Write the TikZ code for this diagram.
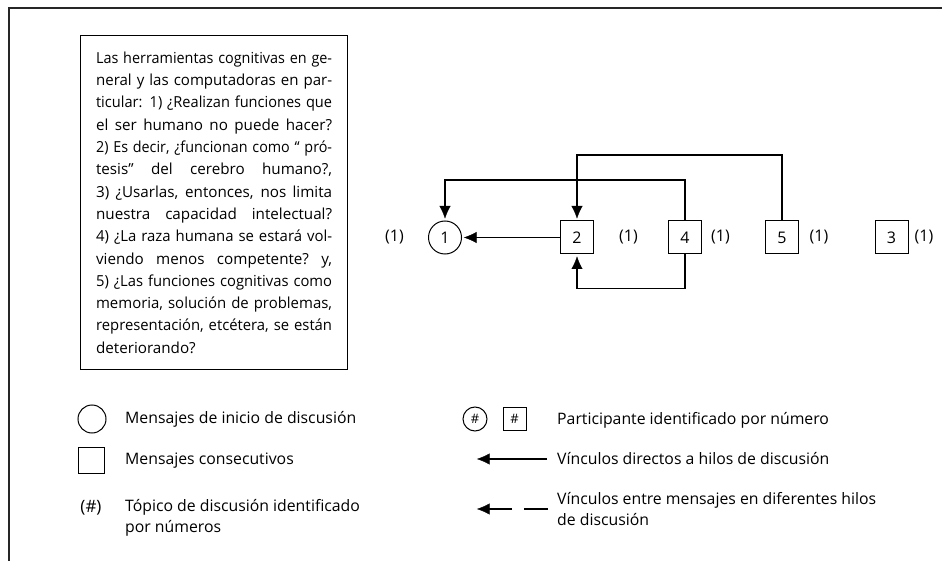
\documentclass[tikz,border=0pt]{standalone}
\usepackage{graphicx}
\usepackage{fontspec}
\setmainfont{Open Sans}
\usetikzlibrary{
  positioning, arrows.meta, decorations.markings}
\newlength{\qwidth}
\setlength{\qwidth}{236pt}
\newlength{\qnat}
\newcommand{\fullline}[1]{\settowidth{\qnat}{#1}%
  \ifdim\qnat>\qwidth\resizebox{\qwidth}{\height}{#1}%
  \else\makebox[\qwidth][s]{\spaceskip=.26em plus 1fil\xspaceskip=.26em plus 1fil\relax #1}\fi}
\tikzset{
    Arrow/.style = {
        line width=1.4pt,
        decoration={
            markings,
            mark=at position 1 with {
                \arrow{Latex[length=15pt, width=13pt]}
                }
            },
        shorten >= 10pt,
        preaction = {decorate}
    },
    Start/.style = {draw, circle, line width=1pt, inner sep=0pt,
        minimum size=33pt, font=\fontsize{16}{16}\selectfont},
    Reply/.style = {draw, rectangle, line width=1pt, inner sep=0pt,
        minimum size=33pt, font=\fontsize{16}{16}\selectfont},
    Topic/.style = {inner sep=0pt, font=\fontsize{16}{16}\selectfont},
    Key/.style = {inner sep=0pt, anchor=west, align=left,
        font=\fontsize{15.8}{21}\selectfont}
}

\begin{document}
\begin{tikzpicture}[x=1pt, y=-1pt]
    \useasboundingbox (0,0) rectangle (942,561);
    \draw [line width=1.8pt, black!85] (942,8) -- (9,8) -- (9,561);
    % question box
    \node [draw, line width=1.2pt, anchor=north west, text width=236pt,
        inner xsep=15.5pt, minimum height=334pt, align=left,
        font=\fontsize{15.2}{22.3}\selectfont] (Q) at (80,35) {%
        \fullline{Las herramientas cognitivas en ge-}\\
        \fullline{neral y las computadoras en par-}\\
        \fullline{ticular: 1) ¿Realizan funciones que}\\
        \fullline{el ser humano no puede hacer?}\\
        \fullline{2) Es decir, ¿funcionan como “ pró-}\\
        \fullline{tesis” del cerebro humano?,}\\
        \fullline{3) ¿Usarlas, entonces, nos limita}\\
        \fullline{nuestra capacidad intelectual?}\\
        \fullline{4) ¿La raza humana se estará vol-}\\
        \fullline{viendo menos competente? y,}\\
        \fullline{5) ¿Las funciones cognitivas como}\\
        \fullline{memoria, solución de problemas,}\\
        \fullline{representación, etcétera, se están}\\
        deteriorando?};
    % discussion thread
    \node [Start] (M1) at (445,237.5) {1};
    \node [Reply, right=98pt of M1] (M2) {2};
    \node [Reply, right=74pt of M2] (M4) {4};
    \node [Reply, right=63pt of M4] (M5) {5};
    \node [Reply, right=75.5pt of M5] (M3) {3};
    \node [Topic, left=24pt of M1] (T1) {(1)};
    \node [Topic, right=25pt of M2] (T2) {(1)};
    \node [Topic, right=9pt of M4] (T4) {(1)};
    \node [Topic, right=10.5pt of M5] (T5) {(1)};
    \node [Topic, right=6pt of M3] (T3) {(1)};
    \draw [Arrow] (M2) to (M1);
    \draw [Arrow] (M4.north) -- ++(0,-40.3) -| (M1.north);
    \draw [Arrow] (M5.north) -- ++(0,-65.3) -| (M2.north);
    \draw [Arrow] (M4.south) -- ++(0,34.3) -| (M2.south);
    % legend, left
    \node [Start, minimum size=28pt] (KS) at (92,419) {};
    \node [Reply, minimum size=26pt] (KR) at (91,460) {};
    \node [Topic, font=\fontsize{17}{17}\selectfont] (KT) at (91,508) {(\#)};
    \node [Key] (KSt) at (125,419) {Mensajes de inicio de discusión};
    \node [Key] (KRt) at (125,461) {Mensajes consecutivos};
    \node [Key] (KTt) at (125,518) {Tópico de discusión identificado\\por números};
    \draw [line width=0.8pt, double distance=2.2pt] (420.5,409) -- (420.5,530);
    % legend, right
    \node [Start, minimum size=24pt, font=\fontsize{13}{13}\selectfont] (KP) at (475,419) {\#};
    \node [Reply, minimum size=23pt, font=\fontsize{13}{13}\selectfont, right=15pt of KP] (KQ) {\#};
    \node [Key] (KPt) at (557,420) {Participante identificado por número};
    \node [Key] (KDt) at (557,459) {Vínculos directos a hilos de discusión};
    \node [Key] (KEt) at (557,509) {Vínculos entre mensajes en diferentes hilos\\de discusión};
    \coordinate (KDend) at (KDt.west -| KP);
    \coordinate (KEend) at (KEt.west -| KP);
    \draw [Arrow, shorten <=10pt] (KDt.west) -- (KDend);
    \draw [Arrow, shorten <=9pt, dash pattern=on 24pt off 12pt on 80pt] (KEt.west) -- (KEend);
\end{tikzpicture}
\end{document}
